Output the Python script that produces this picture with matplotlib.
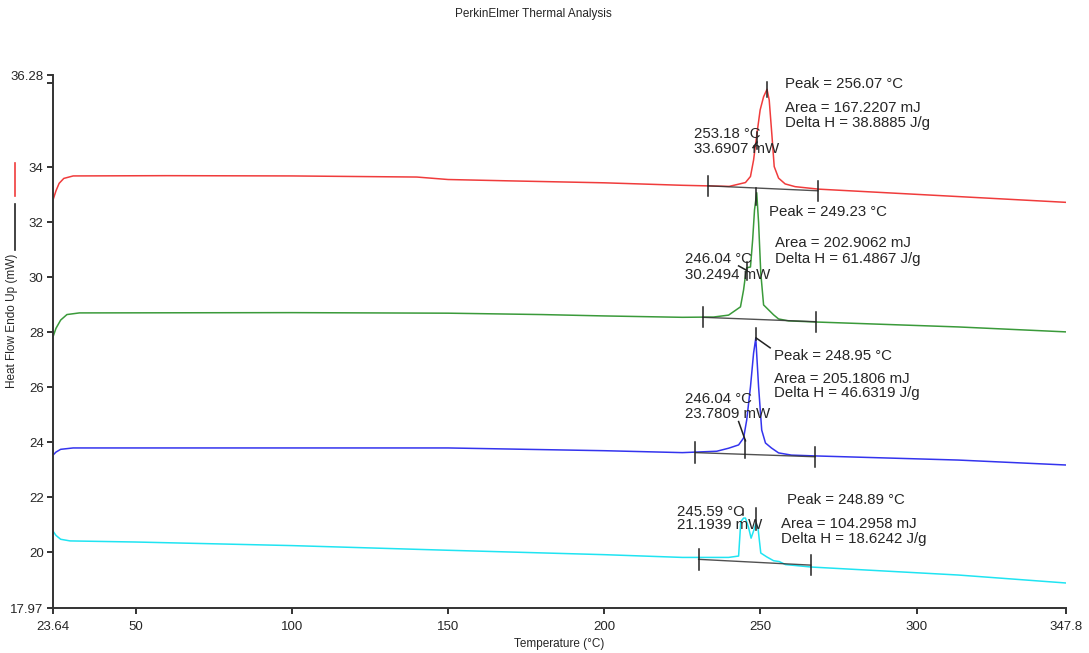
#!/usr/bin/env python3
import numpy as np
import matplotlib
matplotlib.use("Agg")
import matplotlib.pyplot as plt
from matplotlib.lines import Line2D

plt.rcParams['font.family'] = ['Liberation Sans', 'DejaVu Sans']

# --- curves (temperature in C, heat flow in mW) ---
red_t = [23.64, 24.5, 25.5, 27, 30, 60, 100, 140, 150, 170, 200, 225, 240, 245.2, 246.8,
         247.8, 248.9, 249.9, 251.0, 252.1, 252.8, 253.7, 254.4, 255.8, 257.9, 261.1, 268.6, 313.3, 347.8]
red_mw = [32.85, 33.15, 33.42, 33.60, 33.69, 33.70, 33.69, 33.65, 33.56, 33.51, 33.44, 33.35, 33.31, 33.45, 33.67,
          34.27, 35.25, 36.09, 36.57, 36.84, 36.45, 35.12, 34.03, 33.61, 33.40, 33.30, 33.21, 32.94, 32.73]

green_t = [23.64, 24.5, 26, 28, 32, 100, 150, 180, 200, 225, 235, 239.8, 243.6, 244.6, 245.3, 245.6,
           246.8, 247.5, 248.1, 248.8, 249.4, 250.1, 251.0, 252.6, 254.2, 255.8, 259.0, 267.6, 313.3, 347.8]
green_mw = [27.87, 28.15, 28.45, 28.65, 28.71, 28.72, 28.70, 28.65, 28.60, 28.55, 28.56, 28.63, 28.93, 29.55, 30.16, 30.35,
            30.38, 31.37, 32.46, 33.08, 31.99, 30.16, 29.00, 28.82, 28.64, 28.49, 28.42, 28.38, 28.20, 28.02]

blue_t = [23.64, 24.5, 26, 30, 100, 150, 170, 200, 225, 236, 239.8, 243.0, 244.6, 245.6, 246.8,
          247.8, 248.5, 249.4, 250.4, 251.6, 253.5, 255.8, 259.9, 267.6, 313.3, 347.8]
blue_mw = [23.55, 23.65, 23.75, 23.80, 23.80, 23.80, 23.76, 23.70, 23.63, 23.68, 23.79, 23.91, 24.16, 24.82, 26.02,
           27.25, 27.79, 26.02, 24.45, 23.98, 23.80, 23.62, 23.54, 23.51, 23.36, 23.18]

cyan_t = [23.64, 24.5, 26, 29, 50, 100, 150, 200, 225, 239.8, 243.0, 243.7, 244.6, 245.2, 246.2,
          247.0, 248.0, 248.5, 249.2, 250.1, 252.0, 254.2, 256.0, 258.0, 266.3, 313.3, 347.8]
cyan_mw = [20.76, 20.62, 20.48, 20.42, 20.38, 20.25, 20.08, 19.92, 19.82, 19.82, 19.87, 21.12, 21.25, 21.25, 20.90,
           20.52, 20.85, 21.05, 20.90, 19.98, 19.84, 19.70, 19.67, 19.56, 19.47, 19.18, 18.89]

colors = ['#f03c3c', '#3a9a3a', '#3434ee', '#20e4f2']

# --- peak integration baselines: (start T, start mW, end T, end mW) ---
baselines = [
    (233.2, 33.33, 268.4, 33.15),
    (231.5, 28.55, 267.7, 28.39),
    (229.2, 23.63, 267.5, 23.48),
    (230.2, 19.75, 266.1, 19.54),
]

peak_text = ["Peak = 256.07 °C", "Peak = 249.23 °C", "Peak = 248.95 °C", "Peak = 248.89 °C"]
area_text = ["Area = 167.2207 mJ", "Area = 202.9062 mJ", "Area = 205.1806 mJ", "Area = 104.2958 mJ"]
dh_text = ["Delta H = 38.8885 J/g", "Delta H = 61.4867 J/g", "Delta H = 46.6319 J/g", "Delta H = 18.6242 J/g"]
onset_t_text = ["253.18 °C", "246.04 °C", "246.04 °C", "245.59 °C"]
onset_mw_text = ["33.6907 mW", "30.2494 mW", "23.7809 mW", "21.1939 mW"]

x_ticks = [23.64, 50, 100, 150, 200, 250, 300, 347.8]
x_ticklabels = ["23.64", "50", "100", "150", "200", "250", "300", "347.8"]
y_bottom = 17.97
y_top = 37.36   # top of the drawn scale, labelled as in the instrument printout
y_ticks = [17.97, 20, 22, 24, 26, 28, 30, 32, 34, y_top]
y_ticklabels = ["17.97", "20", "22", "24", "26", "28", "30", "32", "34", "36.28"]

# --- figure ---
W, H = 1089, 653
fig = plt.figure(figsize=(W / 100, H / 100), dpi=100)
ax = fig.add_axes([53.3 / W, 1 - 608.3 / H, (1066 - 53.3) / W, (608.3 - 75) / H])

for t, mw, c in zip([red_t, green_t, blue_t, cyan_t], [red_mw, green_mw, blue_mw, cyan_mw], colors):
    ax.plot(t, mw, color=c, lw=1.1, solid_joinstyle='round')

mark = dict(color='#222222', lw=1.1)
tick_half = 0.37
for (t1, v1, t2, v2) in baselines:
    ax.plot([t1, t2], [v1, v2], color='#333333', lw=1.0, alpha=0.85)
    ax.plot([t1, t1], [v1 - tick_half, v1 + tick_half], **mark)
    ax.plot([t2, t2], [v2 - tick_half, v2 + tick_half], **mark)

# peak and onset markers
ax.plot([252.1, 252.1], [36.55, 37.12], **mark)
ax.plot([248.9, 248.9], [34.66, 35.30], **mark)
ax.plot([247.6, 248.9], [34.72, 34.92], **mark)
ax.plot([248.7, 248.7], [32.64, 33.25], **mark)
ax.plot([245.7, 245.7], [29.91, 30.57], **mark)
ax.plot([243.0, 245.7], [30.42, 30.25], **mark)
ax.plot([248.5, 248.5], [27.73, 28.15], **mark)
ax.plot([248.6, 253.1], [27.80, 27.44], **mark)
ax.plot([245.2, 245.2], [23.42, 24.09], **mark)
ax.plot([243.0, 245.2], [24.76, 24.06], **mark)
ax.plot([248.5, 248.5], [20.82, 21.61], **mark)
ax.plot([244.3, 244.3], [21.35, 21.58], **mark)

# --- annotation text (positions in data units) ---
tk = dict(fontsize=10.8, color='#262626', ha='left', va='center')
peak_pos = [(257.7, 37.05), (252.6, 32.38), (254.2, 27.14), (258.4, 21.91)]
area_pos = [(257.7, 36.17), (254.8, 31.25), (254.2, 26.30), (256.5, 21.04)]
dh_pos = [(257.7, 35.62), (254.8, 30.67), (254.2, 25.80), (256.5, 20.49)]
onset_pos = [(228.6, 35.22), (226.0, 30.67), (226.0, 25.57), (223.2, 21.47)]
onset_mw_pos = [(228.6, 34.67), (226.0, 30.09), (226.0, 25.03), (223.2, 20.99)]
for i in range(4):
    ax.text(*peak_pos[i], peak_text[i], **tk)
    ax.text(*area_pos[i], area_text[i], **tk)
    ax.text(*dh_pos[i], dh_text[i], **tk)
    ax.text(*onset_pos[i], onset_t_text[i], **tk)
    ax.text(*onset_mw_pos[i], onset_mw_text[i], **tk)

# --- axes styling ---
ax.set_xlim(x_ticks[0], x_ticks[-1])
ax.set_ylim(y_bottom, y_top)
ax.set_xticks(x_ticks)
ax.set_xticklabels(x_ticklabels)
ax.set_yticks(y_ticks)
ax.set_yticklabels(y_ticklabels)
ax.set_yticks([y_top - 0.3], minor=True)
for s in ['top', 'right']:
    ax.spines[s].set_visible(False)
for s in ['left', 'bottom']:
    ax.spines[s].set_color('#333333')
    ax.spines[s].set_linewidth(1.4)
ax.tick_params(axis='both', which='both', direction='out', length=4, width=1.4,
               color='#333333', labelsize=9.5, labelcolor='#262626')
ax.tick_params(axis='x', pad=5)
ax.tick_params(axis='y', pad=3)

ax.set_xlabel("Temperature (°C)", fontsize=8.5, color='#262626')
ax.xaxis.set_label_coords(0.5, -0.056)
ax.set_ylabel("Heat Flow Endo Up (mW)", fontsize=8.5, color='#262626')
ax.yaxis.set_label_coords(-0.0345, 0.539)

# colour keys drawn next to the y label
fig.add_artist(Line2D([15 / W, 15 / W], [1 - 163 / H, 1 - 196 / H], color='#f03c3c', lw=1.2))
fig.add_artist(Line2D([15 / W, 15 / W], [1 - 204 / H, 1 - 250 / H], color='#222222', lw=1.2))

fig.text(0.49, 1 - 14 / H, "PerkinElmer Thermal Analysis", fontsize=8.5, color='#262626',
         ha='center', va='center')

fig.savefig("out.png", dpi=100)
